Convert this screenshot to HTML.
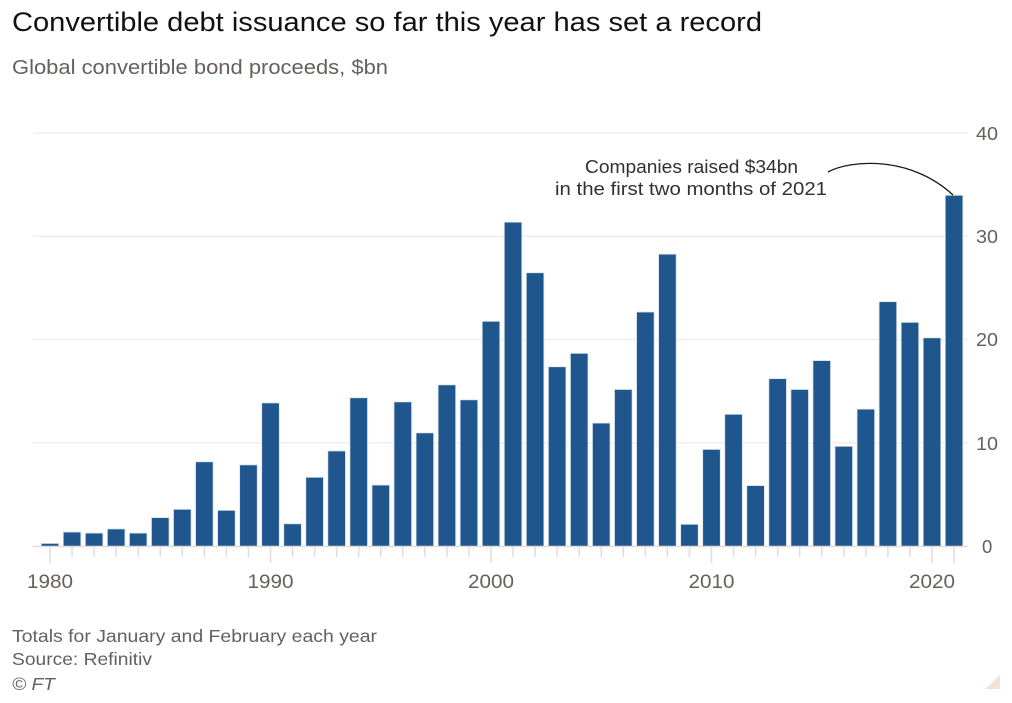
<!DOCTYPE html>
<html>
<head>
<meta charset="utf-8">
<style>
html,body{margin:0;padding:0;background:#fff;}
svg{display:block;}
text{font-family:"Liberation Sans",sans-serif;}
</style>
</head>
<body>
<svg width="1012" height="703" viewBox="0 0 1012 703" xmlns="http://www.w3.org/2000/svg">
<rect x="0" y="0" width="1012" height="703" fill="#fff"/>
<text x="12" y="31" font-size="27" fill="#111" textLength="750" lengthAdjust="spacingAndGlyphs">Convertible debt issuance so far this year has set a record</text>
<text x="12" y="74" font-size="20" fill="#66605c" textLength="376" lengthAdjust="spacingAndGlyphs">Global convertible bond proceeds, $bn</text>

<g stroke="#f0ebe6" stroke-width="1.3">
<line x1="33" y1="133" x2="968" y2="133"/>
<line x1="33" y1="236.3" x2="968" y2="236.3"/>
<line x1="33" y1="339.5" x2="968" y2="339.5"/>
<line x1="33" y1="442.8" x2="968" y2="442.8"/>
</g>
<g font-size="18.5" fill="#66605c">
<text x="976" y="140" textLength="22" lengthAdjust="spacingAndGlyphs">40</text>
<text x="976" y="243" textLength="22" lengthAdjust="spacingAndGlyphs">30</text>
<text x="976" y="346" textLength="22" lengthAdjust="spacingAndGlyphs">20</text>
<text x="976" y="450" textLength="22" lengthAdjust="spacingAndGlyphs">10</text>
<text x="982" y="553">0</text>
</g>

<path fill="none" stroke="#e3dcd6" stroke-width="1.5" d="M50,547V563 M72.05,547V557 M94.1,547V557 M116.15,547V557 M138.2,547V557 M160.25,547V557 M182.3,547V557 M204.35,547V557 M226.4,547V557 M248.45,547V557 M270.5,547V563 M292.55,547V557 M314.6,547V557 M336.65,547V557 M358.7,547V557 M380.75,547V557 M402.8,547V557 M424.85,547V557 M446.9,547V557 M468.95,547V557 M491,547V563 M513.05,547V557 M535.1,547V557 M557.15,547V557 M579.2,547V557 M601.25,547V557 M623.3,547V557 M645.35,547V557 M667.4,547V557 M689.45,547V557 M711.5,547V563 M733.55,547V557 M755.6,547V557 M777.65,547V557 M799.7,547V557 M821.75,547V557 M843.8,547V557 M865.85,547V557 M887.9,547V557 M909.95,547V557 M932,547V563 M954.05,547V563"/>

<g fill="#20568e" stroke="#dbe4ee" stroke-width="0.8">
<rect x="41.2" y="543.4" width="17.6" height="3.1"/>
<rect x="63.25" y="532.04" width="17.6" height="14.46"/>
<rect x="85.3" y="533.07" width="17.6" height="13.43"/>
<rect x="107.35" y="528.94" width="17.6" height="17.56"/>
<rect x="129.4" y="533.07" width="17.6" height="13.43"/>
<rect x="151.45" y="517.58" width="17.6" height="28.92"/>
<rect x="173.5" y="509.31" width="17.6" height="37.19"/>
<rect x="195.55" y="461.79" width="17.6" height="84.71"/>
<rect x="217.6" y="510.34" width="17.6" height="36.16"/>
<rect x="239.65" y="464.89" width="17.6" height="81.61"/>
<rect x="261.7" y="402.91" width="17.6" height="143.59"/>
<rect x="283.75" y="523.77" width="17.6" height="22.73"/>
<rect x="305.8" y="477.29" width="17.6" height="69.21"/>
<rect x="327.85" y="450.95" width="17.6" height="95.55"/>
<rect x="349.9" y="397.75" width="17.6" height="148.75"/>
<rect x="371.95" y="485.04" width="17.6" height="61.46"/>
<rect x="394" y="401.88" width="17.6" height="144.62"/>
<rect x="416.05" y="432.87" width="17.6" height="113.63"/>
<rect x="438.1" y="384.84" width="17.6" height="161.66"/>
<rect x="460.15" y="399.81" width="17.6" height="146.69"/>
<rect x="482.2" y="321.31" width="17.6" height="225.19"/>
<rect x="504.25" y="222.14" width="17.6" height="324.36"/>
<rect x="526.3" y="272.75" width="17.6" height="273.75"/>
<rect x="548.35" y="366.76" width="17.6" height="179.74"/>
<rect x="570.4" y="353.33" width="17.6" height="193.17"/>
<rect x="592.45" y="423.06" width="17.6" height="123.44"/>
<rect x="614.5" y="389.48" width="17.6" height="157.02"/>
<rect x="636.55" y="312.01" width="17.6" height="234.49"/>
<rect x="658.6" y="254.16" width="17.6" height="292.34"/>
<rect x="680.65" y="524.29" width="17.6" height="22.21"/>
<rect x="702.7" y="449.4" width="17.6" height="97.1"/>
<rect x="724.75" y="414.28" width="17.6" height="132.22"/>
<rect x="746.8" y="485.55" width="17.6" height="60.95"/>
<rect x="768.85" y="378.64" width="17.6" height="167.86"/>
<rect x="790.9" y="389.48" width="17.6" height="157.02"/>
<rect x="812.95" y="360.56" width="17.6" height="185.94"/>
<rect x="835" y="446.3" width="17.6" height="100.2"/>
<rect x="857.05" y="409.11" width="17.6" height="137.39"/>
<rect x="879.1" y="301.68" width="17.6" height="244.82"/>
<rect x="901.15" y="322.34" width="17.6" height="224.16"/>
<rect x="923.2" y="337.83" width="17.6" height="208.67"/>
<rect x="945.25" y="195.28" width="17.6" height="351.22"/>
</g>
<line x1="33" y1="546.5" x2="968" y2="546.5" stroke="#e3dcd6" stroke-width="1.5"/>

<g font-size="19" fill="#66605c" text-anchor="middle">
<text x="50" y="588" textLength="46" lengthAdjust="spacingAndGlyphs">1980</text>
<text x="270.5" y="588" textLength="46" lengthAdjust="spacingAndGlyphs">1990</text>
<text x="491" y="588" textLength="46" lengthAdjust="spacingAndGlyphs">2000</text>
<text x="711.5" y="588" textLength="46" lengthAdjust="spacingAndGlyphs">2010</text>
<text x="932" y="588" textLength="46" lengthAdjust="spacingAndGlyphs">2020</text>
</g>

<g font-size="18.5" fill="#33302e" text-anchor="middle">
<text x="691.5" y="173" textLength="213" lengthAdjust="spacingAndGlyphs">Companies raised $34bn</text>
<text x="691" y="195" textLength="272" lengthAdjust="spacingAndGlyphs">in the first two months of 2021</text>
</g>
<path d="M828,172 C850,160 910,155 953,195" fill="none" stroke="#1a1817" stroke-width="1.3"/>

<g font-size="17.5" fill="#66605c">
<text x="12" y="642" textLength="365" lengthAdjust="spacingAndGlyphs">Totals for January and February each year</text>
<text x="12" y="665" textLength="140" lengthAdjust="spacingAndGlyphs">Source: Refinitiv</text>
<text x="12" y="690" font-style="italic" textLength="43" lengthAdjust="spacingAndGlyphs">© FT</text>
</g>
<polygon points="985,689 1000,689 1000,675" fill="#efe3d6"/>
</svg>
</body>
</html>
